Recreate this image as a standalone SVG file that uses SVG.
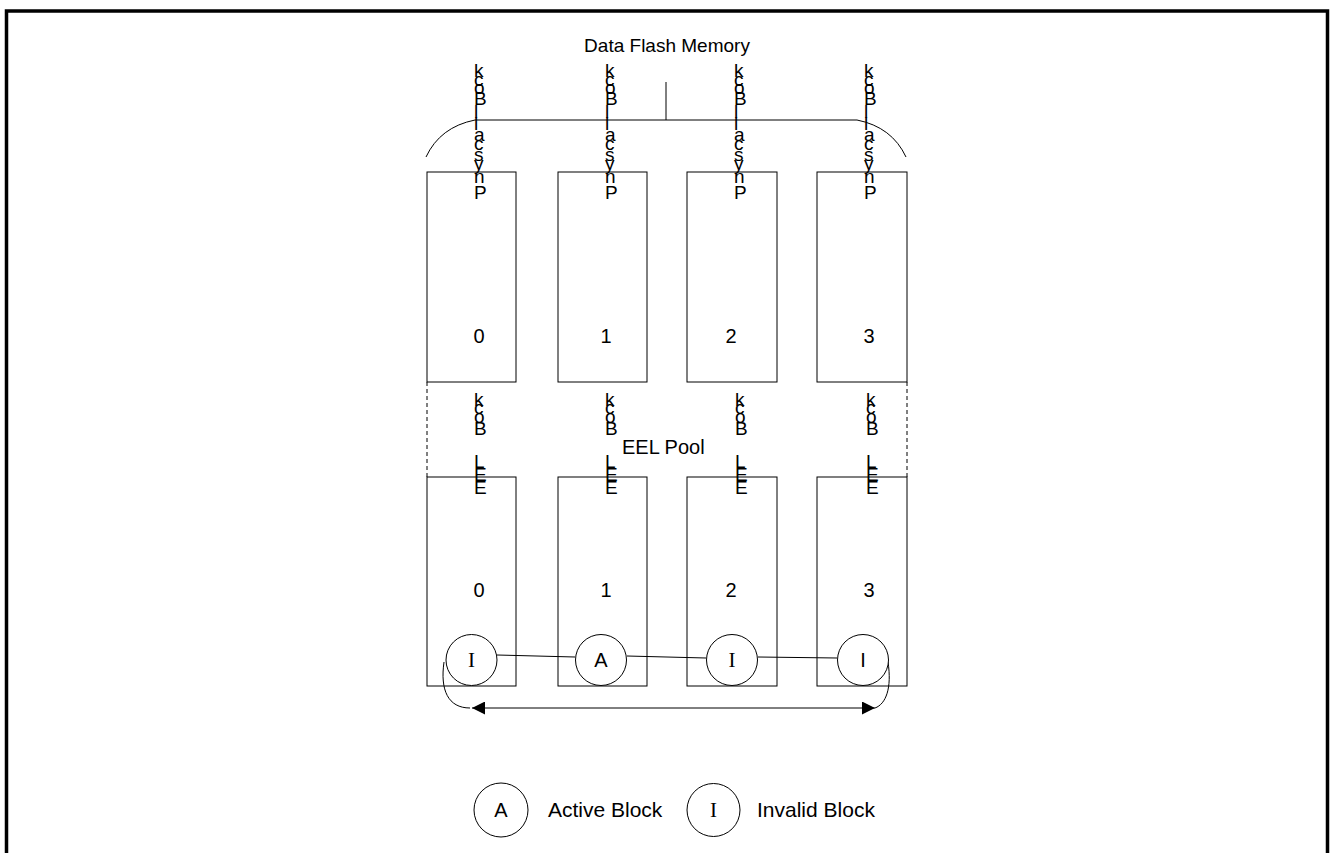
<svg xmlns="http://www.w3.org/2000/svg" width="1330" height="853" viewBox="0 0 1330 853">
<defs>
<style>
.t{font-family:"Liberation Sans",Arial,sans-serif;font-size:20px;fill:#000}
.lg{font-size:21px}
.ti{font-size:19px}
.v{font-family:"Liberation Sans",Arial,sans-serif;font-size:19px;fill:#000}
.c{text-anchor:middle}
.s{font-family:"Liberation Serif","Times New Roman",serif;font-size:21px;text-anchor:middle;fill:#000}
.box{fill:none;stroke:#000;stroke-width:1}
.ln{fill:none;stroke:#000;stroke-width:1}
.dash{fill:none;stroke:#000;stroke-width:1;stroke-dasharray:4,3}
.circ{fill:#fff;stroke:#000;stroke-width:1}
</style>
<marker id="ah" viewBox="0 0 10 10" refX="10" refY="5" markerWidth="16" markerHeight="13" markerUnits="userSpaceOnUse" orient="auto-start-reverse">
<path d="M0,0 L10,5 L0,10 Z" fill="#000"/>
</marker>
</defs>
<rect width="1330" height="853" fill="#fff"/>
<path d="M6.5,853 V11 H1327.5 V853" fill="none" stroke="#000" stroke-width="3.5"/>

<g id="title">
<text class="t ti c" x="667" y="52">Data Flash Memory</text>
<path class="ln" d="M666,82 V120 M475,120 H857 M475,120 Q440,127 426,157 M857,120 Q892,127 906,157"/>
</g>

<g id="phys0">
<rect class="box" x="427" y="172" width="89" height="210"/>
<text class="t c" x="479" y="343">0</text>
</g>
<g id="phys1">
<rect class="box" x="558" y="172" width="89" height="210"/>
<text class="t c" x="606" y="343">1</text>
</g>
<g id="phys2">
<rect class="box" x="687" y="172" width="90" height="210"/>
<text class="t c" x="731" y="343">2</text>
</g>
<g id="phys3">
<rect class="box" x="817" y="172" width="90" height="210"/>
<text class="t c" x="869" y="343">3</text>
</g>

<g id="physlabels">
<g transform="translate(474,0)">
<text class="v" x="0" y="77">k</text><text class="v" x="0" y="86">c</text><text class="v" x="0" y="94">o</text><text class="v" x="0" y="105">B</text><text class="v" x="0" y="118">l</text><text class="v" x="0" y="130">l</text><text class="v" x="0" y="141">a</text><text class="v" x="0" y="150">c</text><text class="v" x="0" y="161">s</text><text class="v" x="0" y="170">y</text><text class="v" x="0" y="183">n</text><text class="v" x="0" y="199">P</text>
</g>
<g transform="translate(605,0)">
<text class="v" x="0" y="77">k</text><text class="v" x="0" y="86">c</text><text class="v" x="0" y="94">o</text><text class="v" x="0" y="105">B</text><text class="v" x="0" y="118">l</text><text class="v" x="0" y="130">l</text><text class="v" x="0" y="141">a</text><text class="v" x="0" y="150">c</text><text class="v" x="0" y="161">s</text><text class="v" x="0" y="170">y</text><text class="v" x="0" y="183">n</text><text class="v" x="0" y="199">P</text>
</g>
<g transform="translate(734,0)">
<text class="v" x="0" y="77">k</text><text class="v" x="0" y="86">c</text><text class="v" x="0" y="94">o</text><text class="v" x="0" y="105">B</text><text class="v" x="0" y="118">l</text><text class="v" x="0" y="130">l</text><text class="v" x="0" y="141">a</text><text class="v" x="0" y="150">c</text><text class="v" x="0" y="161">s</text><text class="v" x="0" y="170">y</text><text class="v" x="0" y="183">n</text><text class="v" x="0" y="199">P</text>
</g>
<g transform="translate(864,0)">
<text class="v" x="0" y="77">k</text><text class="v" x="0" y="86">c</text><text class="v" x="0" y="94">o</text><text class="v" x="0" y="105">B</text><text class="v" x="0" y="118">l</text><text class="v" x="0" y="130">l</text><text class="v" x="0" y="141">a</text><text class="v" x="0" y="150">c</text><text class="v" x="0" y="161">s</text><text class="v" x="0" y="170">y</text><text class="v" x="0" y="183">n</text><text class="v" x="0" y="199">P</text>
</g>
</g>

<g id="pool">
<path class="dash" d="M427,382 V477 M907,382 V477"/>
<text class="t" x="622" y="454">EEL Pool</text>
</g>

<g id="eel0">
<rect class="box" x="427" y="477" width="89" height="209"/>
<text class="t c" x="479" y="597">0</text>
</g>
<g id="eel1">
<rect class="box" x="558" y="477" width="89" height="209"/>
<text class="t c" x="606" y="597">1</text>
</g>
<g id="eel2">
<rect class="box" x="687" y="477" width="90" height="209"/>
<text class="t c" x="731" y="597">2</text>
</g>
<g id="eel3">
<rect class="box" x="817" y="477" width="90" height="209"/>
<text class="t c" x="869" y="597">3</text>
</g>

<g id="eellabels">
<g transform="translate(474,0)">
<text class="v" x="0" y="406">k</text><text class="v" x="0" y="414">c</text><text class="v" x="0" y="423">o</text><text class="v" x="0" y="435">B</text><text class="v" x="0" y="468">L</text><text class="v" x="0" y="481">E</text><text class="v" x="0" y="494">E</text>
</g>
<g transform="translate(605,0)">
<text class="v" x="0" y="406">k</text><text class="v" x="0" y="414">c</text><text class="v" x="0" y="423">o</text><text class="v" x="0" y="435">B</text><text class="v" x="0" y="468">L</text><text class="v" x="0" y="481">E</text><text class="v" x="0" y="494">E</text>
</g>
<g transform="translate(735,0)">
<text class="v" x="0" y="406">k</text><text class="v" x="0" y="414">c</text><text class="v" x="0" y="423">o</text><text class="v" x="0" y="435">B</text><text class="v" x="0" y="468">L</text><text class="v" x="0" y="481">E</text><text class="v" x="0" y="494">E</text>
</g>
<g transform="translate(866,0)">
<text class="v" x="0" y="406">k</text><text class="v" x="0" y="414">c</text><text class="v" x="0" y="423">o</text><text class="v" x="0" y="435">B</text><text class="v" x="0" y="468">L</text><text class="v" x="0" y="481">E</text><text class="v" x="0" y="494">E</text>
</g>
</g>

<g id="connectors">
<path class="ln" d="M497,655 L575,657 M627,656 L706,658 M758,657 L837,658"/>
<path class="ln" d="M444,662 C440,690 448,708 470,708"/>
<path class="ln" d="M888,662 C892,688 886,704 875,708"/>
<path class="ln" d="M472,708 H875" marker-start="url(#ah)" marker-end="url(#ah)"/>
</g>

<g id="state0">
<circle class="circ" cx="471.5" cy="660" r="25.5"/>
<text class="s" x="471.5" y="667">I</text>
</g>
<g id="state1">
<circle class="circ" cx="601" cy="660" r="25.5"/>
<text class="t c" x="601" y="667">A</text>
</g>
<g id="state2">
<circle class="circ" cx="732" cy="660" r="25.5"/>
<text class="s" x="732" y="667">I</text>
</g>
<g id="state3">
<circle class="circ" cx="863" cy="660" r="25.5"/>
<text class="t c" x="863" y="667">I</text>
</g>

<g id="legendActive">
<circle class="circ" cx="501" cy="810" r="27"/>
<text class="t c" x="501" y="817">A</text>
<text class="t lg" x="548" y="817">Active Block</text>
</g>
<g id="legendInvalid">
<circle class="circ" cx="713.5" cy="810" r="26.5"/>
<text class="s" x="713.5" y="817">I</text>
<text class="t lg" x="757" y="817">Invalid Block</text>
</g>
</svg>
